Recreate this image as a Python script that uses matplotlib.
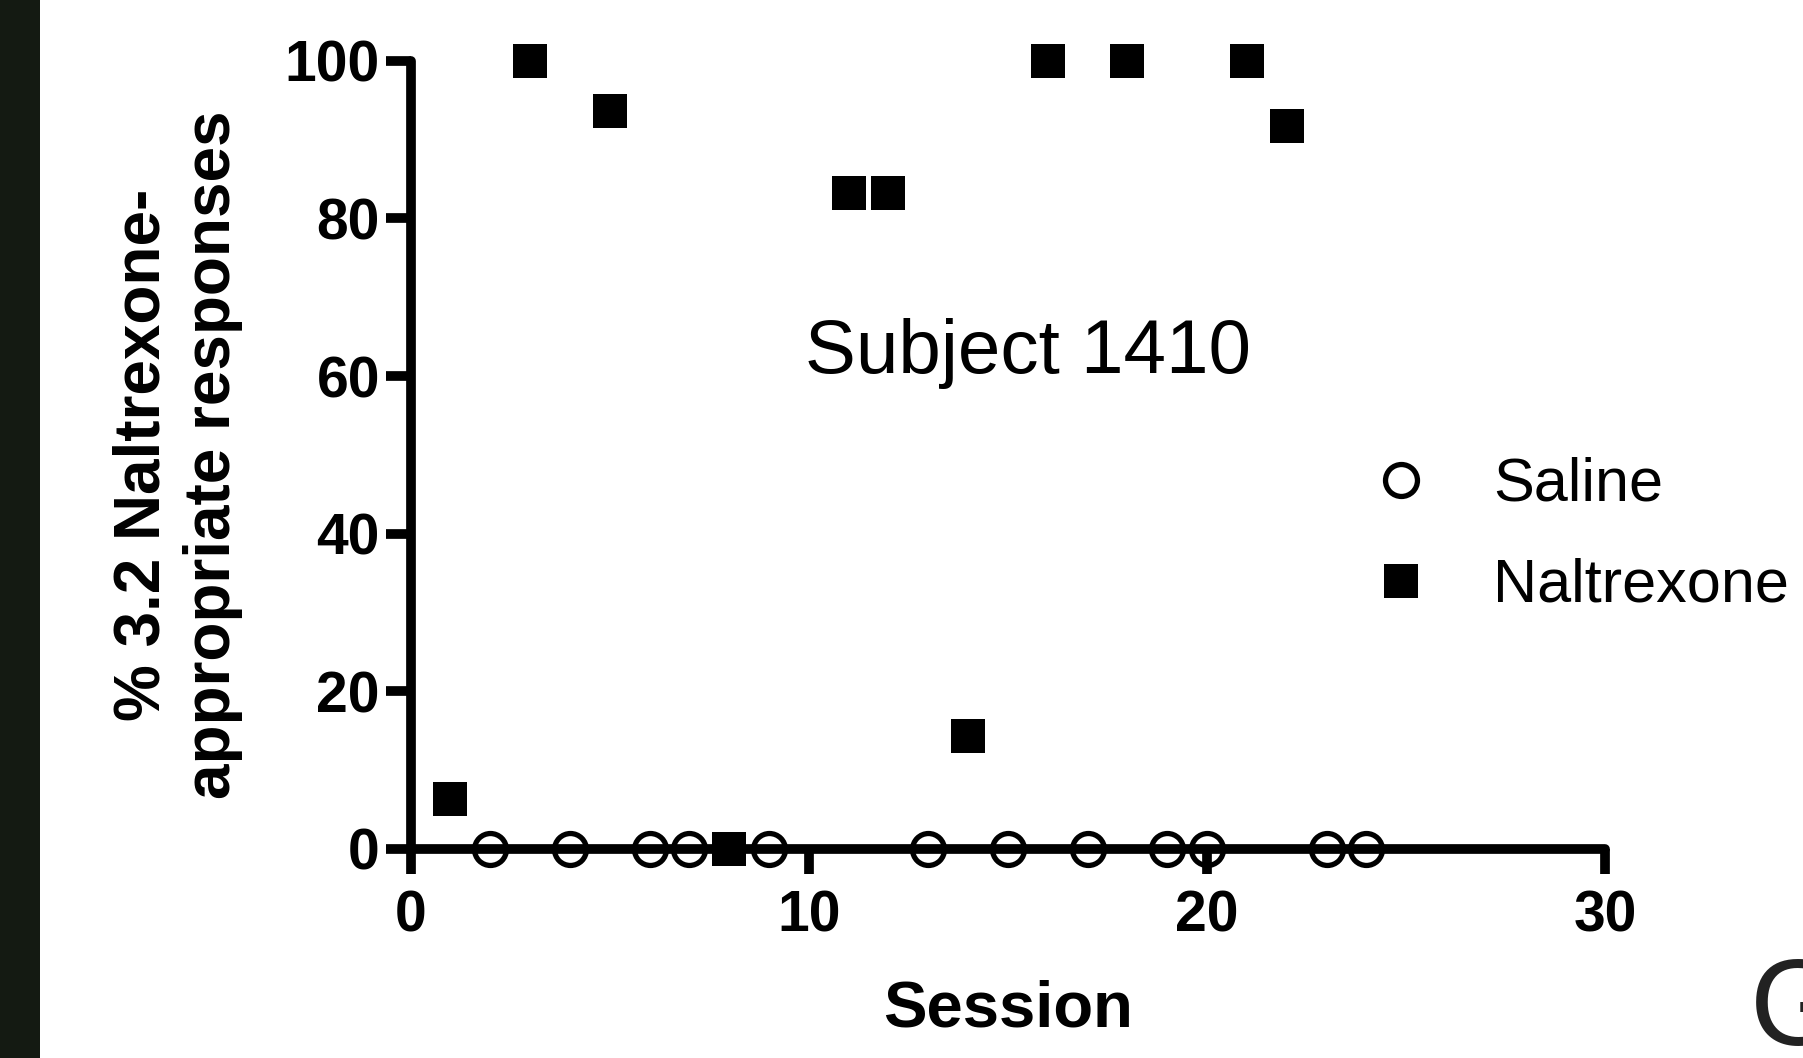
import matplotlib

matplotlib.use("Agg")
import matplotlib.pyplot as plt
from matplotlib.patches import Rectangle

plt.rcParams["font.family"] = ["Liberation Sans", "DejaVu Sans"]

# sessions and % naltrexone-appropriate responses
saline_sessions = [2, 4, 6, 7, 9, 13, 15, 17, 19, 20, 23, 24]
saline_pct = [0, 0, 0, 0, 0, 0, 0, 0, 0, 0, 0, 0]

naltrexone_sessions = [1, 3, 5, 8, 11, 12, 14, 16, 18, 21, 22]
naltrexone_pct = [6.3, 100, 93.7, 0, 83.3, 83.3, 14.3, 100, 100, 100, 91.7]

x_ticks = [0, 10, 20, 30]
y_ticks = [0, 20, 40, 60, 80, 100]

subject_label = "Subject 1410"


def main() -> None:
    fig = plt.figure(figsize=(18.03, 10.58), dpi=100)
    fig.patch.set_facecolor("white")

    # dark strip down the left edge
    fig.patches.append(
        Rectangle((0, 0), 40 / 1803, 1, transform=fig.transFigure,
                  facecolor="#141a12", edgecolor="none", zorder=0)
    )

    ax = fig.add_axes([0.2277, 0.1978, 0.6627, 0.7446])
    ax.set_xlim(0, 30)
    ax.set_ylim(0, 100)

    ax.plot(saline_sessions, saline_pct, linestyle="none", marker="o",
            markersize=23, markerfacecolor="none", markeredgecolor="black",
            markeredgewidth=3.8, clip_on=False, zorder=5, label="Saline")
    ax.plot(naltrexone_sessions, naltrexone_pct, linestyle="none", marker="s",
            markersize=24, markerfacecolor="black", markeredgecolor="black",
            markeredgewidth=0, clip_on=False, zorder=6, label="Naltrexone")

    for side in ["top", "right"]:
        ax.spines[side].set_visible(False)
    for side in ["left", "bottom"]:
        ax.spines[side].set_linewidth(7)
        ax.spines[side].set_capstyle("round")

    ax.set_xticks(x_ticks)
    ax.set_yticks(y_ticks)
    ax.tick_params(axis="both", direction="out", length=18, width=7,
                   labelsize=41)
    ax.tick_params(axis="y", pad=4)
    ax.tick_params(axis="x", pad=11)
    for lab in ax.get_xticklabels() + ax.get_yticklabels():
        lab.set_fontweight("bold")

    ax.set_xlabel("Session", fontsize=47, fontweight="bold", labelpad=26)
    ax.set_ylabel("% 3.2 Naltrexone-\nappropriate responses", fontsize=46,
                  fontweight="bold", labelpad=30, linespacing=1.22)

    ax.text(15.5, 62.8, subject_label, fontsize=55, ha="center", va="center")

    ax.legend(loc="center left", bbox_to_anchor=(0.778, 0.397), frameon=False,
              fontsize=44, handlelength=1.0, handletextpad=1.0, borderpad=0,
              labelspacing=0.72, markerscale=1.0)

    fig.text(1750 / 1803, 13 / 1058, "G", fontsize=88, color="#222222",
             ha="left", va="baseline")

    fig.savefig("out.png", dpi=100, facecolor=fig.get_facecolor())
    plt.close(fig)


if __name__ == "__main__":
    main()
